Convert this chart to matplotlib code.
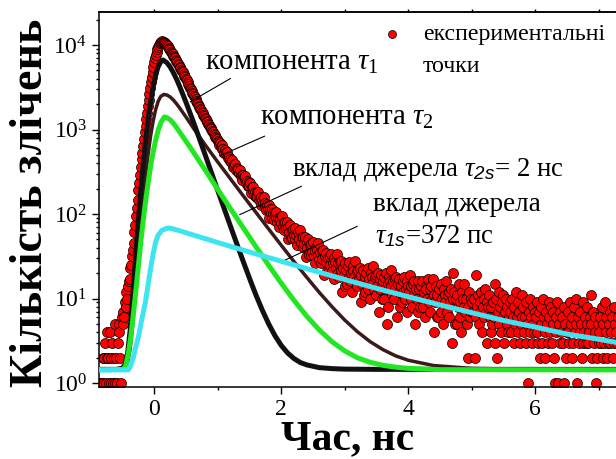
import numpy as np
import matplotlib.pyplot as plt
from matplotlib.ticker import LogLocator, MultipleLocator, NullFormatter

plt.rcParams['font.family'] = 'Liberation Serif'
plt.rcParams['mathtext.fontset'] = 'custom'
plt.rcParams['mathtext.rm'] = 'Liberation Serif'
plt.rcParams['mathtext.it'] = 'Liberation Serif:italic'
plt.rcParams['mathtext.sf'] = 'Liberation Sans:italic'

# experimental spectrum: first channel / channel width (ns) and counts
t_start = -0.85
t_step = 0.0125
counts = [
    # background before the rise (-0.85 .. -0.5125)
    1, 1, 1, 2, 1, 2, 3, 1, 4, 2, 2, 1, 4, 1, 2, 3, 1, 2, 1, 5, 2, 1, 3, 5, 4, 2, 1, 6,
    # rise and peak (-0.5 .. 1.0)
    5, 7, 6, 9, 8, 12, 10, 14, 16, 17, 23, 25, 32, 38, 46, 61, 74, 95, 117, 148,
    192, 232, 286, 362, 449, 531, 644, 781, 937, 1108, 1326, 1588, 1897, 2230, 2618, 3075,
    3633, 4168, 4769, 5483,
    6218, 6942, 7647, 8380, 9041, 9583, 10047, 10502, 10848, 10967,
    11021, 10934, 10802, 10618, 10447, 10218, 9947, 9621, 9318, 9010,
    8688, 8376, 8082, 7791, 7488, 7207, 6951, 6724, 6478, 6219,
    5982, 5776, 5561, 5338, 5127, 4951, 4758, 4540, 4331, 4163,
    3989, 3808, 3641, 3452, 3279, 3137, 2991, 2838, 2703, 2609,
    2508, 2394, 2291, 2177, 2082, 2003, 1921, 1838, 1761, 1688,
    1620, 1552, 1489, 1437, 1379, 1318, 1262, 1224, 1177, 1118,
    1072, 1043, 1008, 967, 931, 893, 859, 822, 791, 766, 734,
    # decay (1.0125 .. 3.0)
    718, 656, 686, 634, 661, 581, 585, 527, 569, 541, 507, 539, 464, 477, 426, 454,
    417, 437, 357, 396, 367, 387, 330, 352, 314, 341, 310, 334, 284, 293, 256, 292,
    275, 257, 285, 235, 248, 215, 240, 215, 232, 177, 208, 189, 206, 166, 184, 159,
    180, 161, 181, 147, 154, 129, 158, 148, 136, 158, 123, 135, 112, 131, 115, 129,
    90, 114, 102, 116, 89, 103, 86, 104, 90, 106, 81, 89, 71, 93, 87, 78,
    96, 71, 81, 65, 80, 69, 81, 51, 71, 62, 74, 52, 65, 52, 66, 56,
    69, 50, 56, 43, 61, 56, 50, 65, 45, 53, 41, 54, 44, 54, 31, 47,
    40, 50, 33, 43, 33, 44, 36, 47, 32, 37, 26, 41, 38, 33, 45, 29,
    36, 26, 37, 29, 38, 19, 32, 27, 35, 21, 30, 21, 31, 25, 34, 21,
    26, 17, 30, 27, 23, 34, 20, 26, 18, 27, 21, 28, 12, 23, 19, 26,
    # long tail (3.0125 .. 5.0)
    14, 22, 15, 24, 18, 27, 16, 20, 12, 24, 21, 18, 28, 16, 21, 14, 22, 17, 23, 9, 19, 15, 22, 11,
    18, 12, 20, 15, 23, 13, 17, 10, 20, 18, 15, 24, 13, 18, 11, 19, 14, 20, 7, 17, 13, 19, 10, 16,
    10, 18, 13, 20, 5, 15, 8, 18, 16, 14, 22, 11, 16, 10, 17, 13,
    18, 6, 15, 12, 17, 8, 14, 9, 16, 12, 18, 10, 13, 7, 16, 14,
    12, 19, 10, 14, 8, 15, 11, 16, 5, 13, 10, 16, 7, 13, 8, 14,
    10, 16, 8, 12, 6, 14, 13, 10, 17, 9, 13, 7, 14, 10, 17, 4,
    11, 9, 14, 6, 11, 6, 13, 9, 15, 7, 10, 5, 13, 11, 9, 16,
    7, 11, 6, 12, 9, 13, 3, 10, 20, 12, 5, 10, 5, 11, 8, 15,
    6, 9, 4, 12, 10, 8, 15, 7, 10, 5, 2, 8, 12, 6, 10, 7,
    # 5.0125 .. 7.3
    9, 7, 10, 2, 6, 19, 8, 11, 5, 9, 7, 12, 4, 8, 10, 6, 13, 7, 3, 9, 8, 11, 6, 4,
    8, 5, 9, 6, 3, 15, 10, 2, 7, 12, 5, 8, 4, 9, 6, 11, 3, 7, 10, 5, 8, 4, 6, 9,
    7, 4, 10, 6, 3, 8, 5, 12, 6, 4, 9, 7, 3, 5, 11, 6, 8, 4, 6, 3, 9, 5, 1, 7, 4, 10, 6, 3, 8, 5, 4, 7,
    6, 9, 4, 3, 7, 2, 5, 8, 3, 10, 6, 2, 4, 7, 5, 3, 9, 6, 4, 8,
    3, 5, 7, 2, 1, 6, 4, 9, 1, 5, 3, 7, 4, 6, 3, 8, 1, 5, 2, 4,
    7, 4, 3, 9, 5, 2, 6, 3, 8, 4, 5, 10, 1, 6, 3, 4, 7, 5, 2, 3,
    9, 4, 6, 3, 5, 8, 3, 4, 6, 11, 5, 2, 7, 3, 4, 6, 1, 2, 5, 3,
    4, 6, 3, 8, 5, 2, 3, 9, 4, 6, 2, 3, 5, 7, 3, 4, 6, 2, 8, 3, 5, 4, 3, 6]
t_exp = t_start + t_step * np.arange(len(counts))

# fitted components
t_tau1 = [-0.85, -0.6, -0.5, -0.46, -0.42, -0.38, -0.34, -0.30, -0.26, -0.22, -0.18, -0.14, -0.10,
          -0.06, -0.02, 0.02, 0.06, 0.10, 0.14, 0.20, 0.25, 0.30, 0.35, 0.40, 0.50, 0.60, 0.70,
          0.80, 0.90, 1.0, 1.1, 1.2, 1.3, 1.4, 1.5, 1.6, 1.7, 1.8, 1.9, 2.0, 2.1, 2.2, 2.3, 2.4,
          2.6, 2.8, 3.0, 3.5, 7.3]
y_tau1 = [1.45, 1.45, 1.50, 1.66, 2.25, 4.2, 10.2, 26.5, 67, 160, 348, 690, 1260,
          2090, 3160, 4365, 5500, 6310, 6650, 6170, 5500, 4730, 3960, 3245, 2100, 1330, 824,
          507, 310, 190, 117, 72, 44.5, 27.7, 17.4, 11.1, 7.35, 5.05, 3.65, 2.79, 2.27, 1.95, 1.75, 1.64,
          1.52, 1.48, 1.46, 1.45, 1.45]

t_tau2 = [-0.85, -0.5, -0.46, -0.42, -0.38, -0.34, -0.30, -0.26, -0.22, -0.18, -0.14, -0.10, -0.06,
          -0.02, 0.02, 0.06, 0.10, 0.15, 0.20, 0.25, 0.30, 0.35, 0.40, 0.50, 0.60, 0.70, 0.80,
          1.0, 1.2, 1.4, 1.6, 1.8, 2.0, 2.2, 2.4, 2.6, 2.8, 3.0, 3.2, 3.4, 3.6, 3.8, 4.0, 4.4,
          5.0, 6.0, 7.3]
y_tau2 = [1.45, 1.45, 1.53, 1.76, 2.52, 4.85, 11.2, 27.2, 63, 136, 269, 490, 813,
          1230, 1700, 2140, 2455, 2600, 2560, 2430, 2240, 2020, 1800, 1406, 1085, 843, 662,
          413, 261, 165, 105, 66.8, 42.7, 27.5, 17.9, 11.8, 8.0, 5.57, 4.05, 3.09, 2.49, 2.1, 1.86, 1.61,
          1.49, 1.45, 1.45]

t_src2 = [-0.85, -0.49, -0.45, -0.41, -0.37, -0.33, -0.29, -0.25, -0.21, -0.17, -0.13, -0.09, -0.05,
          -0.01, 0.03, 0.07, 0.11, 0.16, 0.20, 0.25, 0.30, 0.35, 0.40, 0.50, 0.60, 0.70, 0.80,
          1.0, 1.2, 1.4, 1.6, 1.8, 2.0, 2.2, 2.4, 2.6, 2.8, 3.0, 3.2, 3.4, 3.6, 3.8, 4.0, 4.5, 7.3]
y_src2 = [1.43, 1.45, 1.6, 2.21, 3.51, 6.43, 12.4, 24.3, 48.2, 88.5, 153, 253, 400,
          577, 796, 1025, 1232, 1410, 1380, 1304, 1190, 1060, 934, 726, 564, 433, 333,
          196, 116, 69, 41.2, 24.9, 15.2, 9.55, 6.2, 4.24, 3.08, 2.40, 1.99, 1.76, 1.62, 1.54, 1.49,
          1.44, 1.43]

t_src1 = [-0.85, -0.41, -0.38, -0.33, -0.29, -0.25, -0.20, -0.14, -0.10, -0.06, -0.02, 0.02, 0.06,
          0.12, 0.20, 0.25, 0.35, 0.5, 1.0, 1.5, 2.0, 2.5, 3.0, 3.5, 4.0, 4.5, 5.0, 5.5, 6.0,
          6.5, 7.0, 7.3]
y_src1 = [1.43, 1.43, 1.55, 2.0, 2.7, 3.5, 5.5, 9, 14, 22, 33, 46, 56,
          64, 68, 68, 65, 60, 46, 35.5, 27.6, 21.5, 16.8, 13.2, 10.5, 8.4, 6.8, 5.5, 4.6,
          3.8, 3.3, 3.0]

fig = plt.figure(figsize=(6.16, 4.59), dpi=100)
ax = fig.add_axes([0.1615, 0.1575, 0.8385, 0.817])

ax.scatter(t_exp, counts, s=52, c='#ff0000', edgecolors='k', linewidths=0.5, zorder=2,
           label='експериментальні')
ax.plot(t_tau2, y_tau2, color='#3c1a1a', lw=2.5, zorder=3)
ax.plot(t_tau1, y_tau1, color='#111111', lw=3.6, zorder=3)
ax.plot(t_src2, y_src2, color='#22e622', lw=3.6, zorder=4)
ax.plot(t_src1, y_src1, color='#3ee4f2', lw=3.6, zorder=5)

ax.set_yscale('log')
ax.set_xlim(-0.863, 7.275)
ax.set_ylim(0.904, 24800)

ax.xaxis.set_major_locator(MultipleLocator(2))
ax.xaxis.set_minor_locator(MultipleLocator(1))
ax.yaxis.set_major_locator(LogLocator(base=10, numticks=10))
ax.yaxis.set_minor_locator(LogLocator(base=10, subs=np.arange(2, 10), numticks=20))
ax.yaxis.set_minor_formatter(NullFormatter())
ax.tick_params(which='both', direction='out', labelsize=17, width=1.0)
ax.tick_params(which='major', length=5)
ax.tick_params(which='minor', length=2.5)
ax.tick_params(axis='x', pad=4)
ax.tick_params(axis='y', pad=4)
ax.spines['right'].set_visible(False)
for s in ['left', 'bottom', 'top']:
    ax.spines[s].set_linewidth(1.1)

top = ax.secondary_xaxis('top')
top.set_xticks(range(0, 8))
top.tick_params(direction='out', length=2, width=1.0, labeltop=False)
top.spines['top'].set_linewidth(1.1)

fig.text(0.0677, 0.559, 'Кількість злічень', rotation=90, rotation_mode='anchor',
         ha='center', va='baseline', fontsize=33, fontweight='bold')
fig.text(0.565, 0.0207, 'Час, нс', ha='center', va='baseline', fontsize=30, fontweight='bold')

# labels with pointer lines
ax.text(0.80, 5130, 'компонента $\\tau_{\\mathit{1}}$', fontsize=20.7, va='baseline')
ax.text(1.67, 1130, 'компонента $\\tau_{\\mathit{2}}$', fontsize=20.7, va='baseline')
ax.text(2.17, 282, 'вклад джерела $\\tau_{\\mathsf{2s}}$= 2 нс', fontsize=19.3, va='baseline')
ax.text(3.44, 109, 'вклад джерела', fontsize=19.5, va='baseline')
ax.text(3.475, 45.4, '$\\tau_{\\mathsf{1s}}$=372 пс', fontsize=19.3, va='baseline')
line_kw = dict(arrowstyle='-', color='k', lw=0.8)
ax.annotate('', xy=(0.53, 2050), xytext=(1.24, 4180), arrowprops=line_kw)
ax.annotate('', xy=(0.99, 473), xytext=(1.78, 861), arrowprops=line_kw)
ax.annotate('', xy=(1.305, 95), xytext=(2.36, 220), arrowprops=line_kw)
ax.annotate('', xy=(1.995, 27), xytext=(3.24, 74), arrowprops=line_kw)

ax.legend(loc='center left', bbox_to_anchor=(0.5435, 0.9405), frameon=False, fontsize=17.2,
          handlelength=1.0, handletextpad=0.81, borderpad=0, borderaxespad=0, markerscale=0.8)
ax.text(0.6263, 0.84, 'точки', transform=ax.transAxes, fontsize=17.2, va='baseline')

fig.savefig('out.png', dpi=100)
